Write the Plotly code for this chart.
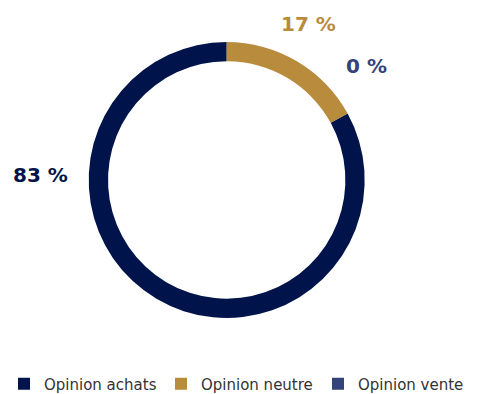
import plotly.graph_objects as go

# Répartition des opinions
categories = ["Opinion achats", "Opinion neutre", "Opinion vente"]
values = [83, 17, 0]
colors = ["#00144b", "#b88b3d", "#34437a"]

W, H = 483, 394
cx, cy, r = 226.7, 180.0, 138.0  # ring centre and outer radius (px)

fig = go.Figure(
    go.Pie(
        labels=categories,
        values=values,
        marker=dict(colors=colors, line=dict(width=0)),
        hole=0.86,
        sort=False,
        direction="clockwise",
        rotation=values[1] / sum(values) * 360,
        textinfo="none",
        hoverinfo="label+percent",
        showlegend=True,
        domain=dict(
            x=[(cx - r) / W, (cx + r) / W],
            y=[(H - cy - r) / H, (H - cy + r) / H],
        ),
    )
)

# value labels around the ring (pixel centres)
label_pos = [(40, 174.5), (308, 24), (366, 66)]
for val, col, (px, py) in zip(values, colors, label_pos):
    fig.add_annotation(
        x=px / W, y=1 - py / H, xref="paper", yref="paper",
        text=f"{val} %", showarrow=False,
        xanchor="center", yanchor="middle",
        font=dict(family="DejaVu Sans", size=20, color=col, weight=700),
    )

fig.update_layout(
    width=W, height=H,
    margin=dict(l=0, r=0, t=0, b=0, autoexpand=False),
    paper_bgcolor="white", plot_bgcolor="white",
    legend=dict(
        orientation="h",
        x=4 / W, xanchor="left",
        y=1 - 384 / H, yanchor="middle",
        font=dict(family="DejaVu Sans", size=15, color="#333333"),
        traceorder="normal",
        entrywidth=112, entrywidthmode="pixels",
    ),
)

fig.write_html("out.html")
